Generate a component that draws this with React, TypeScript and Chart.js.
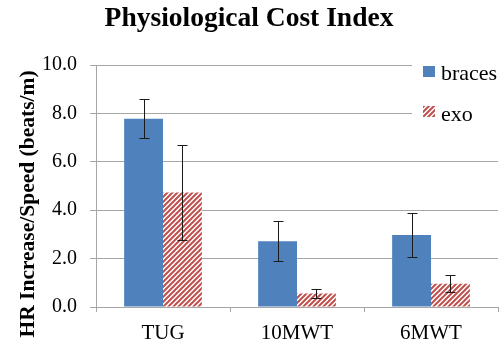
import React, { useEffect, useRef } from "react";
import { Chart, registerables } from "chart.js";

Chart.register(...registerables);

const categories = ["TUG", "10MWT", "6MWT"];
const bracesValues = [7.78, 2.72, 2.98];
const bracesErrors = [0.8, 0.82, 0.92];
const exoValues = [4.73, 0.56, 0.96];
const exoErrors = [1.95, 0.18, 0.36];
const yTicks = [0, 2, 4, 6, 8, 10];
const yTitle = "HR Increase/Speed (beats/m)";

const BLUE = "#4F81BD";
const RED = "#C0504D";
const GRID = "#A6A6A6";
const FONT = "'Liberation Serif', 'Times New Roman', serif";

function makeHatch(): CanvasPattern | string {
  const s = 5;
  const c = document.createElement("canvas");
  c.width = s;
  c.height = s;
  const g = c.getContext("2d");
  if (!g) return RED;
  g.fillStyle = "#ffffff";
  g.fillRect(0, 0, s, s);
  g.strokeStyle = RED;
  g.lineWidth = 2;
  g.beginPath();
  g.moveTo(-1, s + 1);
  g.lineTo(s + 1, -1);
  g.moveTo(-1, 1);
  g.lineTo(1, -1);
  g.moveTo(s - 1, s + 1);
  g.lineTo(s + 1, s - 1);
  g.stroke();
  const p = g.createPattern(c, "repeat");
  return p || RED;
}

const errorBars = {
  id: "errorBars",
  afterDatasetsDraw(chart: any) {
    const ctx = chart.ctx;
    const y = chart.scales.y;
    const errs = [bracesErrors, exoErrors];
    ctx.save();
    ctx.strokeStyle = "#1a1a1a";
    ctx.lineWidth = 1;
    chart.data.datasets.forEach((ds: any, di: number) => {
      const meta = chart.getDatasetMeta(di);
      meta.data.forEach((bar: any, i: number) => {
        const v = ds.data[i];
        const e = errs[di][i];
        const x = Math.round(bar.x) + 0.5;
        const yt = Math.round(y.getPixelForValue(v + e)) + 0.5;
        const yb = Math.round(y.getPixelForValue(v - e)) + 0.5;
        ctx.beginPath();
        ctx.moveTo(x, yt);
        ctx.lineTo(x, yb);
        ctx.moveTo(x - 5, yt);
        ctx.lineTo(x + 5, yt);
        ctx.moveTo(x - 5, yb);
        ctx.lineTo(x + 5, yb);
        ctx.stroke();
      });
    });
    ctx.restore();
  },
};

// Rotated y-axis caption, set a little below the plot's centre line
const axisCaption = {
  id: "axisCaption",
  afterDraw(chart: any) {
    const ctx = chart.ctx;
    ctx.save();
    ctx.translate(28, 204);
    ctx.rotate(-Math.PI / 2);
    ctx.fillStyle = "#000000";
    ctx.font = `bold 21.5px ${FONT}`;
    ctx.textAlign = "center";
    ctx.textBaseline = "middle";
    ctx.fillText(yTitle, 0, 0);
    ctx.restore();
  },
};

const sideLegend = {
  id: "sideLegend",
  afterDraw(chart: any) {
    const ctx = chart.ctx;
    const hatch = chart.data.datasets[1].backgroundColor;
    ctx.save();
    ctx.fillStyle = "#ffffff";
    ctx.fillRect(412, 52, 89, 76);
    ctx.fillStyle = BLUE;
    ctx.fillRect(423, 66, 12, 11);
    ctx.fillStyle = hatch;
    ctx.fillRect(423, 106, 12, 11);
    ctx.fillStyle = "#000000";
    ctx.font = `22px ${FONT}`;
    ctx.textBaseline = "alphabetic";
    ctx.textAlign = "left";
    ctx.fillText("braces", 441, 80);
    ctx.fillText("exo", 441, 121);
    ctx.restore();
  },
};

export default function App() {
  const ref = useRef<HTMLCanvasElement>(null);

  useEffect(() => {
    document.body.style.margin = "0";
    const canvas = ref.current;
    if (!canvas) return;
    const hatch = makeHatch();
    const chart = new Chart(canvas, {
      type: "bar",
      data: {
        labels: categories,
        datasets: [
          {
            label: "braces",
            data: bracesValues,
            backgroundColor: BLUE,
            borderWidth: 0,
            barPercentage: 1,
            categoryPercentage: 0.58,
          },
          {
            label: "exo",
            data: exoValues,
            backgroundColor: hatch as any,
            borderWidth: 0,
            barPercentage: 1,
            categoryPercentage: 0.58,
          },
        ],
      },
      options: {
        animation: false,
        responsive: false,
        maintainAspectRatio: false,
        layout: { padding: { left: 0, right: 3, top: 0, bottom: 0 } },
        plugins: {
          legend: { display: false },
          tooltip: { enabled: false },
          title: {
            display: true,
            text: "Physiological Cost Index",
            color: "#000000",
            font: { family: FONT, size: 27.5, weight: "bold" },
            padding: { top: 2, bottom: 30 },
          },
        },
        scales: {
          x: {
            grid: {
              display: true,
              drawOnChartArea: false,
              drawTicks: true,
              tickLength: 5,
              color: GRID,
            },
            border: { display: true, color: GRID },
            ticks: {
              color: "#000000",
              padding: 9,
              font: { family: FONT, size: 21 },
            },
            afterFit(scale: any) {
              scale.height = 32;
            },
          },
          y: {
            min: 0,
            max: 10,
            afterBuildTicks(scale: any) {
              scale.ticks = yTicks.map((v) => ({ value: v }));
            },
            grid: { color: GRID, tickLength: 6 },
            border: { display: true, color: GRID },
            ticks: {
              color: "#000000",
              padding: 13,
              font: { family: FONT, size: 20 },
              callback: (v: any) => Number(v).toFixed(1),
            },
            title: { display: false },
            afterFit(scale: any) {
              scale.width = 96;
            },
          },
        },
      },
      plugins: [errorBars, axisCaption, sideLegend],
    });
    return () => chart.destroy();
  }, []);

  return <canvas ref={ref} width={501} height={339} style={{ display: "block" }} />;
}
